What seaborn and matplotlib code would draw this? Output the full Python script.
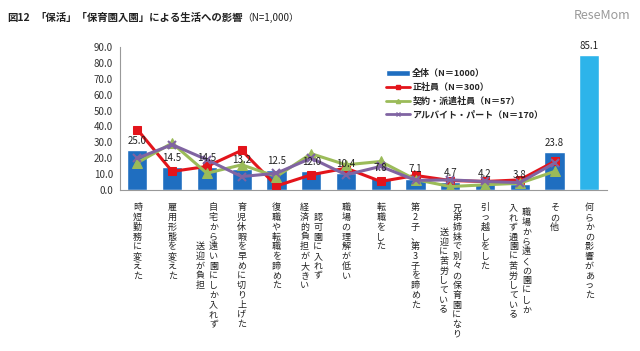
import numpy as np
import pandas as pd
import matplotlib.pyplot as plt
import seaborn as sns
from matplotlib.patches import Patch
from matplotlib.lines import Line2D

# categories (vertical labels, columns read right to left)
label_cols = [
    ['時短勤務に変えた'],
    ['雇用形態を変えた'],
    ['自宅から遠い園にしか入れず', '送迎が負担'],
    ['育児休暇を早めに切り上げた'],
    ['復職や転職を諦めた'],
    ['認可園に入れず', '経済的負担が大きい'],
    ['職場の理解が低い'],
    ['転職をした'],
    ['第2子、第3子を諦めた'],
    ['兄弟姉妹で別々の保育園になり', '送迎に苦労している'],
    ['引っ越しをした'],
    ['職場から遠くの園にしか', '入れず通園に苦労している'],
    ['その他'],
    ['何らかの影響があった'],
]
categories = [''.join(c) for c in label_cols]

total = [25.0, 14.5, 14.5, 13.2, 12.5, 12.0, 10.4, 7.8, 7.1, 4.7, 4.2, 3.8, 23.8, 85.1]
seishain = [38.0, 11.6, 14.8, 24.9, 2.5, 9.5, 13.7, 5.3, 9.1, 5.9, 5.3, 6.3, 17.9]
keiyaku = [17.1, 29.5, 10.5, 15.8, 8.4, 22.8, 15.8, 17.9, 6.5, 2.1, 3.2, 4.2, 11.6]
arubaito = [20.0, 28.5, 19.0, 8.4, 10.5, 20.0, 9.5, 14.8, 6.0, 6.3, 5.3, 4.6, 16.9]

series_names = ['全体（N＝1000）', '正社員（N＝300）', '契約・派遣社員（N＝57）', 'アルバイト・パート（N＝170）']

sns.set_style('white')
plt.rcParams['font.family'] = ['Noto Sans CJK JP', 'DejaVu Sans']

fig = plt.figure(figsize=(6.4, 3.51), dpi=100)
ax = fig.add_axes([0.1875, 0.459, 0.7605, 0.407])

df = pd.DataFrame({'cat': categories, 'val': total})
palette = ['#1F6EC0'] * (len(categories) - 1) + ['#2DB4EA']
sns.barplot(data=df, x='cat', y='val', hue='cat', palette=palette, legend=False,
            width=0.58, saturation=1, ax=ax)

xs = np.arange(len(seishain))
sns.lineplot(x=xs, y=seishain, color='#E3141B', marker='s', markersize=6,
             markeredgecolor='#E3141B', linewidth=2.2, ax=ax)
sns.lineplot(x=xs, y=keiyaku, color='#9BBB59', marker='^', markersize=7,
             markeredgecolor='#9BBB59', linewidth=2.2, ax=ax)
sns.lineplot(x=xs, y=arubaito, color='#8064A2', marker='x', markersize=6,
             markeredgecolor='#8064A2', markeredgewidth=1.5, linewidth=2.2, ax=ax)

# value labels on bars
for i, v in enumerate(total):
    ax.annotate(f'{v:.1f}', (i, v), xytext=(0, 3), textcoords='offset points',
                ha='center', va='bottom', fontsize=7, color='#222222')

ax.set_ylim(0, 90)
ax.set_xlim(-0.5, len(categories) - 0.5)
ax.set_yticks(range(0, 91, 10))
ax.set_yticklabels([f'{t:.1f}' for t in range(0, 91, 10)], fontsize=7, color='#333333')
ax.set_xticks(np.arange(-0.5, len(categories), 1))
ax.set_xticklabels([])
ax.set_xlabel('')
ax.set_ylabel('')
ax.tick_params(axis='both', length=3, color='#999999', direction='out')
ax.tick_params(axis='y', pad=2)
for s in ['top', 'right']:
    ax.spines[s].set_visible(False)
for s in ['left', 'bottom']:
    ax.spines[s].set_color('#999999')
    ax.spines[s].set_linewidth(0.8)

# vertical japanese tick labels
trans = ax.get_xaxis_transform()
pitch = 7.0
for i, cols in enumerate(label_cols):
    n = max(len(c) for c in cols)
    ncol = len(cols)
    for j, col in enumerate(cols):
        dx = ((ncol - 1) / 2 - j) * 9.4
        top = -9.5 - (n - len(col)) * pitch / 2
        for k, ch in enumerate(col):
            ax.annotate(ch, xy=(i, 0), xycoords=trans,
                        xytext=(dx, top - k * pitch - pitch / 2), textcoords='offset points',
                        ha='center', va='center', fontsize=6.5, color='#222222')

handles = [
    Patch(facecolor='#1F6EC0'),
    Line2D([], [], color='#E3141B', lw=2, marker='s', markersize=3),
    Line2D([], [], color='#9BBB59', lw=2, marker='^', markersize=3),
    Line2D([], [], color='#8064A2', lw=2, marker='x', markersize=3),
]
ax.legend(handles, series_names, loc='upper left', bbox_to_anchor=(0.53, 0.9),
          frameon=False, handlelength=2.6, handleheight=0.6,
          labelspacing=0.5, handletextpad=0.3,
          prop={'weight': 'bold', 'size': 6.5})

fig.text(0.012, 0.949, '図12', fontsize=7.5, fontweight='bold', va='center', color='#222222')
t = fig.text(0.055, 0.949, '「保活」「保育園入園」による生活への影響', fontsize=7.5,
             fontweight='bold', va='center', color='#222222')
fig.canvas.draw()
bb = t.get_window_extent()
fig.text(bb.x1 / fig.bbox.width, 0.949, '（N=1,000）', fontsize=7, va='center', color='#222222')
fig.text(0.985, 0.955, 'ReseMom', fontsize=9, ha='right', va='center', color='#9a9a9a')

fig.savefig('out.png', dpi=100)
